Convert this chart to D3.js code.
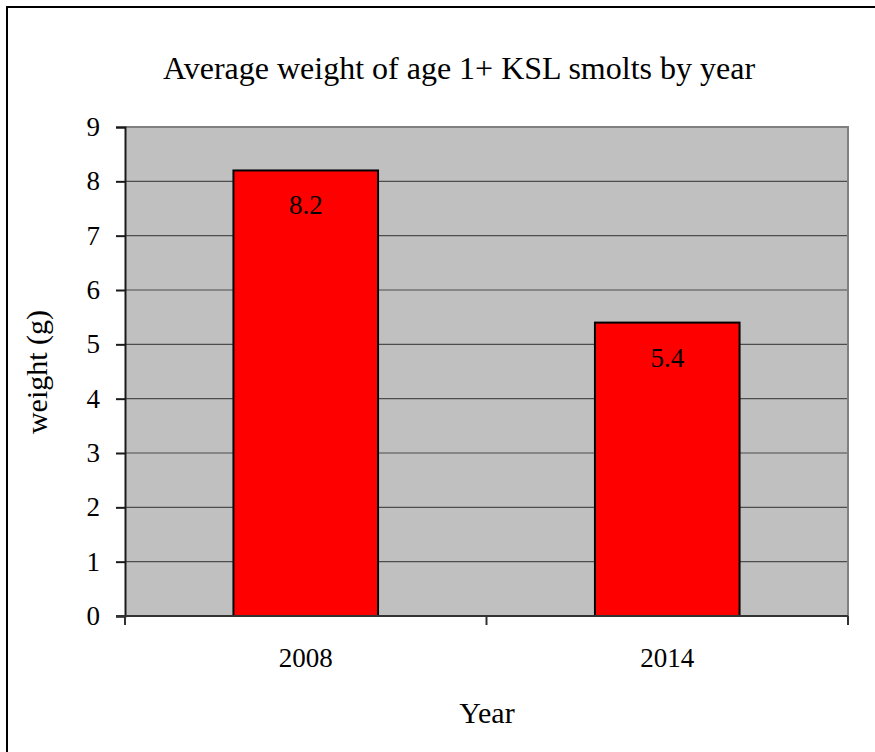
<!DOCTYPE html>
<html>
<head>
<meta charset="utf-8">
<script src="https://cdn.jsdelivr.net/npm/d3@7"></script>
<style>
  html, body { margin: 0; padding: 0; background: #fff; }
  svg { display: block; }
  text { font-family: "Liberation Serif", "Times New Roman", serif; fill: #000; }
</style>
</head>
<body>
<svg id="chart" width="875" height="752"></svg>
<script>
// Average weight (g) of age 1+ KSL smolts
const years = ["2008", "2014"];
const weights = [8.2, 5.4];
const yTicks = [0, 1, 2, 3, 4, 5, 6, 7, 8, 9];

const svg = d3.select("#chart");

// outer frame
svg.append("rect")
  .attr("x", 7).attr("y", 7)
  .attr("width", 872).attr("height", 752)
  .attr("fill", "#fff")
  .attr("stroke", "#000").attr("stroke-width", 2);

const plot = { left: 125, right: 848, top: 127, bottom: 616 };

const x = d3.scaleBand()
  .domain(years)
  .range([plot.left, plot.right])
  .paddingInner(0.6)
  .paddingOuter(0.3);

const y = d3.scaleLinear()
  .domain([0, 9])
  .range([plot.bottom, plot.top]);

// plot background
svg.append("rect")
  .attr("x", plot.left).attr("y", plot.top)
  .attr("width", plot.right - plot.left)
  .attr("height", plot.bottom - plot.top)
  .attr("fill", "#c0c0c0");

// horizontal gridlines
svg.append("g")
  .selectAll("line")
  .data(yTicks.filter(d => d > 0 && d < 9))
  .join("line")
  .attr("x1", plot.left).attr("x2", plot.right)
  .attr("y1", d => y(d)).attr("y2", d => y(d))
  .attr("stroke", "#4d4d4d").attr("stroke-width", 1.2);

// top and right plot border
svg.append("path")
  .attr("d", `M${plot.left},${plot.top}H${plot.right}V${plot.bottom}`)
  .attr("fill", "none")
  .attr("stroke", "#808080").attr("stroke-width", 2);

const rows = years.map((k, i) => ({ k, v: weights[i] }));

// bars
svg.append("g")
  .selectAll("rect")
  .data(rows)
  .join("rect")
  .attr("x", d => x(d.k))
  .attr("y", d => y(d.v))
  .attr("width", x.bandwidth())
  .attr("height", d => y(0) - y(d.v))
  .attr("fill", "#ff0000")
  .attr("stroke", "#000").attr("stroke-width", 2);

// value labels
svg.append("g")
  .selectAll("text")
  .data(rows)
  .join("text")
  .attr("x", d => x(d.k) + x.bandwidth() / 2)
  .attr("y", d => y(d.v) + 44)
  .attr("text-anchor", "middle")
  .style("font-size", "27px")
  .text(d => d.v.toFixed(1));

// y axis
const yAxis = svg.append("g")
  .attr("transform", `translate(${plot.left},0)`)
  .call(d3.axisLeft(y).tickValues(yTicks).tickSize(9).tickPadding(16).tickFormat(d3.format("d")));
yAxis.select(".domain").attr("stroke", "#1a1a1a").attr("stroke-width", 2);
yAxis.selectAll(".tick line").attr("stroke", "#1a1a1a").attr("stroke-width", 2);
yAxis.selectAll(".tick text")
  .attr("font-family", null)
  .style("font-size", "27px").attr("fill", "#000");

// x axis with boundary ticks between categories
const xAxisG = svg.append("g")
  .attr("transform", `translate(0,${plot.bottom})`);
xAxisG.append("line")
  .attr("x1", plot.left - 9).attr("x2", plot.right)
  .attr("stroke", "#333").attr("stroke-width", 2);
const step = (plot.right - plot.left) / years.length;
xAxisG.selectAll("line.tk")
  .data(d3.range(years.length + 1))
  .join("line")
  .attr("class", "tk")
  .attr("x1", i => plot.left + i * step).attr("x2", i => plot.left + i * step)
  .attr("y1", 0).attr("y2", 9)
  .attr("stroke", "#333").attr("stroke-width", 2);
xAxisG.selectAll("text")
  .data(years)
  .join("text")
  .attr("x", d => x(d) + x.bandwidth() / 2)
  .attr("y", 51)
  .attr("text-anchor", "middle")
  .style("font-size", "27px")
  .text(d => d);

// titles
svg.append("text")
  .attr("x", 459).attr("y", 79)
  .attr("text-anchor", "middle")
  .style("font-size", "32px")
  .text("Average weight of age 1+ KSL smolts by year");

svg.append("text")
  .attr("x", 487).attr("y", 723)
  .attr("text-anchor", "middle")
  .style("font-size", "30px")
  .text("Year");

svg.append("text")
  .attr("transform", "translate(47,372) rotate(-90)")
  .attr("text-anchor", "middle")
  .style("font-size", "30px")
  .text("weight (g)");
</script>
</body>
</html>
